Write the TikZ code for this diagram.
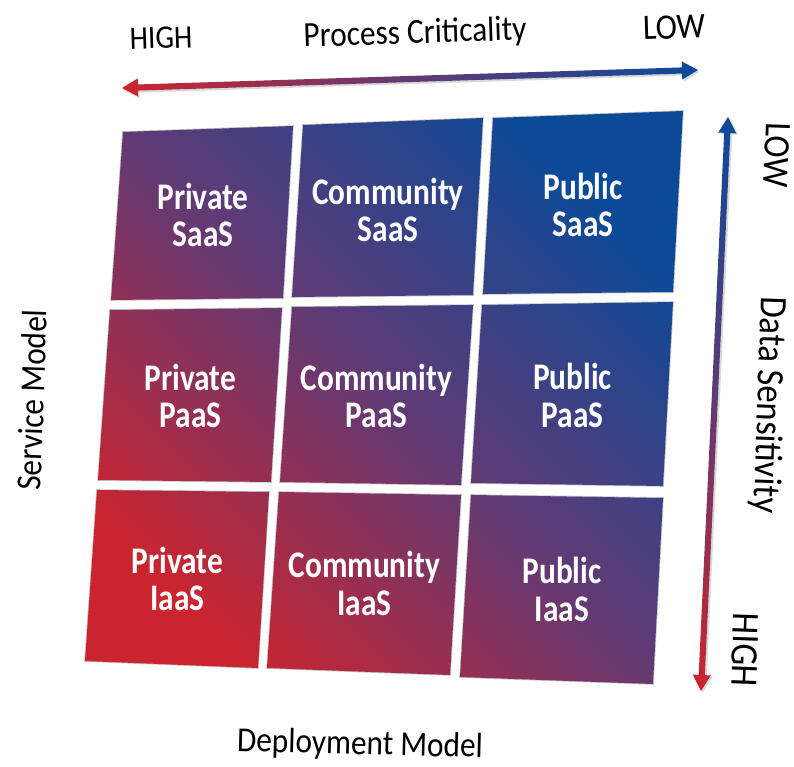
\documentclass[tikz,border=0pt]{standalone}
\usepackage{fontspec}
\setmainfont{Carlito}
\usetikzlibrary{calc,shadows}

\definecolor{gridred}{RGB}{204,36,46}
\definecolor{gridpurple}{RGB}{98,58,116}
\definecolor{gridblue}{RGB}{12,74,152}

% double arrow drawn as one shaded outline between two points
\newcommand{\gradarrow}[3]{%
  \shade[#1] (#2)
    -- ($(#2)!12pt!(#3)!6.8pt!90:(#3)$)
    -- ($(#2)!12pt!(#3)!2.3pt!90:(#3)$)
    -- ($(#3)!12pt!(#2)!2.3pt!-90:(#2)$)
    -- ($(#3)!12pt!(#2)!6.8pt!-90:(#2)$)
    -- (#3)
    -- ($(#3)!12pt!(#2)!6.8pt!90:(#2)$)
    -- ($(#3)!12pt!(#2)!2.3pt!90:(#2)$)
    -- ($(#2)!12pt!(#3)!2.3pt!-90:(#3)$)
    -- ($(#2)!12pt!(#3)!6.8pt!-90:(#3)$)
    -- cycle;}

\begin{document}
\begin{tikzpicture}[
    x=0.75pt, y=-0.75pt,
    cellgrad/.style={top color=gridblue, bottom color=gridred, middle color=gridpurple, shading angle=-45},
    celledge/.style={draw=gray!45, line width=1.2pt},
    celltext/.style={text=white, font=\fontsize{23.5}{23.5}\selectfont\bfseries, align=center, yscale=1.2},
    axislabel/.style={font=\fontsize{23.5}{26}\selectfont, inner sep=0pt},
    tall/.style={yscale=1.12},
    hbar/.style={left color=gridred, right color=gridblue, middle color=gridpurple,
      drop shadow={shadow xshift=1pt, shadow yshift=-1.5pt, opacity=0.3}},
    vbar/.style={top color=gridblue, bottom color=gridred, middle color=gridpurple,
      drop shadow={shadow xshift=1.5pt, shadow yshift=-1pt, opacity=0.3}}
  ]
  \useasboundingbox (0,0) rectangle (794,767);

  % corners of the nine cells
  \foreach \n/\p/\q/\r/\s in {
      ps/{123,132}/{293,126}/{283,298}/{111,300},
      cs/{303,125}/{483,118}/{473,295}/{292,297},
      us/{493,118}/{683,111}/{673,292}/{483,294},
      pp/{110,310}/{282,308}/{271,482}/{98,480},
      cp/{292,307}/{473,305}/{461,485}/{280,482},
      up/{482,305}/{673,302}/{663,486}/{471,483},
      pi/{97,490}/{269,492}/{258,668}/{85,661},
      ci/{279,492}/{461,495}/{450,675}/{267,668},
      ui/{471,495}/{663,498}/{653,684}/{460,677}}{
    \coordinate (\n-tl) at (\p);
    \coordinate (\n-tr) at (\q);
    \coordinate (\n-br) at (\r);
    \coordinate (\n-bl) at (\s);
  }

  % cells
  \path[celledge] foreach \n in {ps,cs,us,pp,cp,up,pi,ci,ui} {(\n-tl) -- (\n-tr) -- (\n-br) -- (\n-bl) -- cycle};
  \shade[cellgrad] foreach \n in {ps,cs,us,pp,cp,up,pi,ci,ui} {(\n-tl) -- (\n-tr) -- (\n-br) -- (\n-bl) -- cycle};

  \foreach \n/\txt in {ps/{Private\\SaaS}, cs/{Community\\SaaS}, us/{Public\\SaaS},
      pp/{Private\\PaaS}, cp/{Community\\PaaS}, up/{Public\\PaaS},
      pi/{Private\\IaaS}, ci/{Community\\IaaS}, ui/{Public\\IaaS}}
    \node[celltext] (\n-label) at ($(\n-tl)!0.5!(\n-br)$) {\txt};

  % Process Criticality axis
  \coordinate (pc-left) at (122,88);
  \coordinate (pc-right) at (698,70);
  \gradarrow{hbar}{pc-left}{pc-right}
  \node[axislabel, rotate=1.8, tall] (pc-title) at (415,34) {Process Criticality};
  \node[axislabel, font=\fontsize{22}{24}\selectfont, rotate=1.8, tall] (pc-high) at (161,38) {HIGH};
  \node[axislabel, font=\fontsize{24}{26}\selectfont, rotate=1.8, tall] (pc-low) at (674,27) {LOW};

  % Data Sensitivity axis
  \coordinate (ds-top) at (728,117);
  \coordinate (ds-bottom) at (701,691);
  \gradarrow{vbar}{ds-top}{ds-bottom}
  \node[axislabel, font=\fontsize{26}{28}\selectfont, rotate=-92, tall] (ds-title) at (768,405) {Data Sensitivity};
  \node[axislabel, font=\fontsize{25}{27}\selectfont, rotate=-92, tall] (ds-low) at (777,155) {LOW};
  \node[axislabel, font=\fontsize{26}{28}\selectfont, rotate=-92, tall] (ds-high) at (745,650) {HIGH};

  % the two model labels
  \node[axislabel, rotate=88, tall] (sm-title) at (32,400) {Service Model};
  \node[axislabel, rotate=-1.5, tall] (dm-title) at (360,745) {Deployment Model};
\end{tikzpicture}
\end{document}
